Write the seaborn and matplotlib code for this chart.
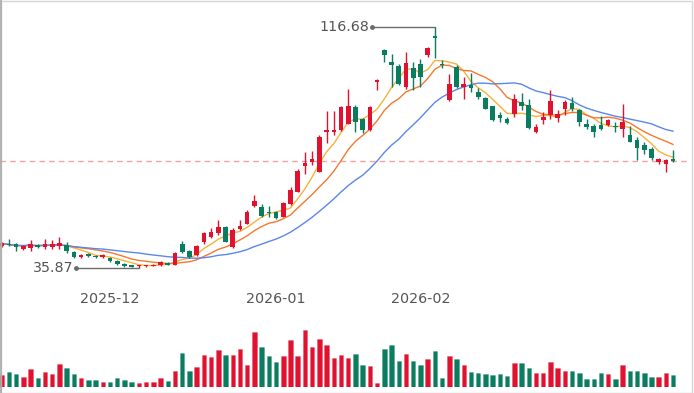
import matplotlib
matplotlib.use("Agg")
import matplotlib.pyplot as plt
from matplotlib.lines import Line2D
from matplotlib.patches import Rectangle
import seaborn as sns
import numpy as np
import pandas as pd

# daily candles
opens = [43.02, 43.86, 43.86, 42.01, 42.51, 43.52, 42.68, 42.85, 43.02, 43.52,
         41.17, 39.49, 40.33, 39.82, 39.32, 38.98, 37.97, 37.13, 36.63, 36.29,
         36.29, 36.46, 36.63, 37.47, 36.80, 43.86, 41.33, 40.16, 44.69, 46.37,
         47.38, 49.40, 42.84, 48.73, 50.74, 56.62, 56.12, 54.77, 54.61, 53.09,
         57.46, 61.49, 70.06, 71.57, 68.21, 81.33, 81.66, 82.17, 84.35, 89.90,
         85.70, 82.17, 98.46, 109.05, 105.18, 103.67, 96.78, 103.00, 104.51, 107.37,
         113.92, 104.51, 92.25, 103.50, 96.78, 97.29, 94.93, 92.92, 90.07, 87.21,
         86.03, 87.38, 91.41, 90.57, 81.49, 85.53, 87.21, 86.20, 89.39, 91.24,
         88.89, 84.35, 83.35, 83.85, 83.85, 83.51, 82.67, 80.49, 78.81, 77.13,
         75.94, 71.40, 70.73, 72.08]
highs = [44.53, 45.54, 44.19, 43.52, 45.20, 43.86, 45.54, 45.03, 46.21, 44.36,
         41.50, 40.49, 40.83, 40.16, 40.49, 39.32, 38.31, 37.47, 36.80, 36.80,
         36.96, 37.13, 37.97, 37.81, 41.17, 44.70, 41.67, 43.52, 48.05, 49.06,
         51.92, 49.90, 49.06, 51.92, 55.11, 60.32, 57.30, 56.62, 54.94, 57.97,
         63.17, 69.05, 74.94, 75.27, 80.32, 88.55, 88.55, 90.23, 95.78, 90.57,
         86.20, 90.23, 99.30, 109.39, 107.87, 104.51, 108.55, 105.18, 106.19, 110.23,
         116.68, 105.69, 101.15, 104.01, 100.14, 101.32, 96.28, 93.25, 90.40, 88.05,
         86.54, 94.43, 94.77, 92.42, 84.35, 88.38, 95.61, 88.89, 92.25, 93.25,
         89.22, 86.03, 84.35, 86.87, 86.03, 85.02, 91.07, 83.52, 79.98, 78.30,
         76.62, 72.75, 72.41, 75.61]
lows = [42.68, 43.02, 41.50, 41.84, 41.50, 42.51, 42.01, 42.17, 42.01, 40.66,
        39.15, 39.15, 39.32, 38.98, 38.98, 37.64, 36.80, 36.12, 35.96, 35.87,
        36.12, 36.29, 36.46, 36.63, 36.63, 40.66, 39.15, 39.82, 43.85, 45.70,
        46.88, 44.36, 42.34, 48.56, 50.57, 56.12, 52.76, 52.76, 52.25, 52.76,
        56.96, 61.16, 67.37, 70.40, 68.05, 77.80, 80.49, 81.83, 84.02, 81.66,
        81.16, 81.83, 95.77, 105.18, 96.78, 97.29, 96.11, 95.61, 96.78, 106.87,
        106.36, 103.00, 92.08, 96.28, 92.75, 95.10, 92.59, 89.06, 85.19, 84.69,
        84.18, 86.70, 88.89, 82.34, 81.16, 84.35, 86.03, 84.69, 87.21, 88.72,
        83.35, 82.67, 79.98, 82.17, 83.35, 81.66, 79.98, 77.97, 72.08, 74.26,
        72.08, 70.73, 68.04, 71.40]
closes = [44.02, 43.35, 42.68, 43.18, 43.86, 42.85, 43.86, 43.86, 44.19, 41.33,
          39.49, 40.16, 39.82, 39.32, 40.16, 37.97, 37.13, 36.46, 36.12, 36.63,
          36.80, 36.96, 37.64, 36.96, 40.66, 41.00, 39.49, 43.18, 47.38, 47.88,
          49.40, 44.69, 48.56, 49.90, 54.77, 58.14, 53.26, 54.27, 52.59, 57.63,
          62.16, 68.55, 71.07, 72.58, 79.98, 82.17, 82.17, 89.73, 90.23, 85.02,
          82.00, 89.73, 99.13, 107.37, 104.01, 97.79, 104.85, 99.64, 100.14, 109.89,
          113.25, 104.01, 97.62, 96.78, 97.79, 96.28, 93.25, 89.39, 85.53, 86.20,
          84.52, 92.42, 90.40, 82.84, 83.18, 86.70, 91.75, 87.71, 91.41, 89.39,
          85.02, 83.01, 81.66, 82.67, 85.53, 83.18, 85.02, 78.30, 75.96, 75.61,
          72.92, 72.41, 72.08, 71.91]
volumes = [35, 45, 40, 30, 55, 28, 45, 40, 70, 57,
           38, 28, 20, 20, 15, 15, 28, 20, 15, 13,
           15, 15, 28, 18, 48, 102, 48, 60, 95, 90,
           110, 95, 95, 115, 65, 165, 120, 92, 75, 92,
           140, 92, 170, 120, 145, 125, 88, 95, 87, 100,
           67, 63, 12, 113, 125, 77, 100, 77, 65, 83,
           107, 28, 92, 85, 65, 45, 42, 40, 35, 40,
           33, 73, 73, 57, 42, 42, 75, 58, 48, 48,
           42, 25, 25, 42, 40, 25, 65, 47, 47, 42,
           30, 30, 43, 37]
tick_pos = [15, 38, 58]
tick_labels = ["2025-12", "2026-01", "2026-02"]
ma_windows = [5, 10, 20]

UP = "#e0122f"
DOWN = "#0a7d60"
MA_COLORS = ["#f9b13a", "#f4792f", "#5b86ee"]
TXT = "#555555"

df = pd.DataFrame({"open": opens, "high": highs, "low": lows,
                   "close": closes, "vol": volumes})
df["i"] = np.arange(len(df))
up = df["close"] >= df["open"]
colors = np.where(up, UP, DOWN)

sns.set_theme(style="white")
plt.rcParams["font.family"] = ["DejaVu Sans"]

W, H = 694, 393
fig = plt.figure(figsize=(W / 100, H / 100), dpi=100)
ax = fig.add_axes([0, 108 / H, 690 / W, 285 / H])
axv = fig.add_axes([0, 6 / H, 690 / W, 67 / H], sharex=ax)

# moving averages (behind candles)
for n, c in zip(ma_windows, MA_COLORS):
    ma = df["close"].rolling(n, min_periods=1).mean()
    sns.lineplot(x=df["i"], y=ma, ax=ax, color=c, linewidth=1.0, zorder=2)

# candles
ax.vlines(df["i"], df["low"], df["high"], color=colors, linewidth=1, zorder=3)
body = (df["close"] - df["open"]).abs().clip(lower=0.35)
ax.bar(df["i"], body, bottom=df[["open", "close"]].min(axis=1), width=0.64,
       color=colors, linewidth=0, zorder=4)

# last price line
ax.axhline(df["close"].iloc[-1], color="#f2a3a3", linestyle=(0, (4, 3)),
           linewidth=1, zorder=1)

# high / low markers
off = 8.7
for idx, val in [(df["high"].idxmax(), df["high"].max()),
                 (df["low"].idxmin(), df["low"].min())]:
    ax.plot([idx - off, idx], [val, val], color="#6b6b6b", linewidth=1, zorder=5)
    ax.plot([idx - off], [val], marker="o", markersize=2.5, color="#6b6b6b", zorder=5)
    ax.text(idx - off - 0.35, val, f"{val:.2f}", ha="right", va="center",
            fontsize=10.3, color=TXT, zorder=6)

x0 = -1.7 / 7.22
ax.set_xlim(x0, x0 + 690 / 7.22)
ax.set_ylim(30.07, 125.86)
ax.set_xticks(tick_pos)
ax.set_xticklabels(tick_labels)
ax.tick_params(axis="x", length=0, pad=5, labelsize=10.3, labelcolor=TXT)
ax.set_yticks([])
ax.set_xlabel("")
ax.set_ylabel("")
for s in ax.spines.values():
    s.set_visible(False)

# volume
axv.bar(df["i"], df["vol"], width=0.62, color=colors, linewidth=0.6,
        edgecolor=[c + "40" for c in colors])
axv.set_ylim(0, 201)
axv.set_yticks([])
axv.tick_params(axis="x", length=0, labelbottom=False)
for s in axv.spines.values():
    s.set_visible(False)
plt.setp(ax.get_xticklabels(), visible=True)

# outer frame
fig.patches.append(Rectangle((0.5 / W, 0.5 / H), (W - 3) / W, (H - 1.5) / H,
                             transform=fig.transFigure, fill=False,
                             edgecolor="#d6d6d6", linewidth=1))
fig.add_artist(Line2D([0.6 / W, 0.6 / W], [0, 1], transform=fig.transFigure,
                      color="#a8a8a8", linewidth=1.2))

fig.savefig("out.png", dpi=100)
